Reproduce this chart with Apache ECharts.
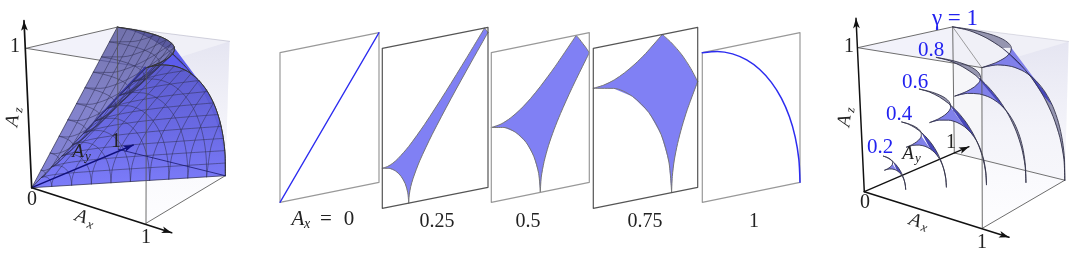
<!DOCTYPE html>
<html><head><meta charset="utf-8">
<script src="https://cdn.jsdelivr.net/npm/echarts@6/dist/echarts.min.js"></script>
<style>html,body{margin:0;padding:0;background:#fff}#c{width:1073px;height:253px}</style>
</head><body><div id="c"></div>
<script>
// ---------- values (unit cube coordinates) ----------
const unitArc=[[1,0],[.988,.156],[.951,.309],[.891,.454],[.809,.588],[.707,.707],[.588,.809],[.454,.891],[.309,.951],[.156,.988],[0,1]];
const gridLevels=[.1,.2,.3,.4,.5,.6,.7,.8,.9];
const gammaLevels=[.2,.4,.6,.8,1];
// cone ruling curves [long coordinate, short coordinate], one for each grid level
const curve1=[[.1,0],[.103,.025],[.112,.05],[.125,.075],[.141,.1],[.18,.15],[.224,.2],[.316,.3],[.51,.5],[.707,.7],[.906,.9],[1,.995]];
const curve2=[[.2,0],[.206,.05],[.224,.1],[.25,.15],[.283,.2],[.361,.3],[.447,.4],[.632,.6],[.825,.8],[1,.98]];
const curve3=[[.3,0],[.309,.075],[.335,.15],[.375,.225],[.424,.3],[.541,.45],[.671,.6],[.854,.8],[1,.954]];
const curve4=[[.4,0],[.412,.1],[.447,.2],[.5,.3],[.566,.4],[.721,.6],[.894,.8],[1,.917]];
const curve5=[[.5,0],[.515,.125],[.559,.25],[.625,.375],[.707,.5],[.86,.7],[1,.866]];
const curve6=[[.6,0],[.618,.15],[.671,.3],[.75,.45],[.849,.6],[1,.8]];
const curve7=[[.7,0],[.722,.175],[.783,.35],[.875,.525],[1,.714]];
const curve8=[[.8,0],[.825,.2],[.894,.4],[1,.6]];
const curve9=[[.9,0],[.928,.225],[.96,.334],[1,.436]];
const curves=[curve1,curve2,curve3,curve4,curve5,curve6,curve7,curve8,curve9];
const seamSliver=[[.35,0,.35],[.6,.01,.615],[.85,.02,.875],[.97,.03,1],[1,0,1]];
// slices, points are [Ay, Az]
const sliceZeroLine=[[0,0],[1,1]];
const sliceOneArc=[[0,1],[.156,.988],[.309,.951],[.454,.891],[.588,.809],[.707,.707],[.809,.588],[.891,.454],[.951,.309],[.988,.156],[1,0]];
const inner25=[[0,.25],[.065,.241],[.125,.217],[.177,.177],[.217,.125],[.241,.065],[.25,0]];
const upper25=[[0,.25],[.05,.255],[.1,.269],[.15,.292],[.25,.354],[.4,.472],[.6,.65],[.8,.838],[.968,1]];
const outer25=[[.968,1],[.984,.984],[1,.968]];
const inner50=[[0,.5],[.129,.483],[.25,.433],[.354,.354],[.433,.25],[.483,.129],[.5,0]];
const upper50=[[0,.5],[.1,.51],[.2,.539],[.3,.583],[.4,.64],[.5,.707],[.65,.82],[.866,1]];
const outer50=[[.866,1],[.9,.97],[.935,.935],[.97,.9],[1,.866]];
const inner75=[[0,.75],[.194,.724],[.375,.65],[.53,.53],[.65,.375],[.724,.194],[.75,0]];
const upper75=[[0,.75],[.1,.757],[.2,.776],[.3,.808],[.4,.85],[.5,.901],[.661,1]];
const outer75=[[.661,1],[.75,.935],[.848,.848],[.935,.75],[1,.661]];
const sliceValues=['0.25','0.5','0.75','1'];
const gammaLabels=['0.2','0.4','0.6','0.8'];

// ---------- layout: perspective boxes, from the axis ends and depth factors ----------
const cubeL={o:[31.7,187.7],ex:[146,223.3],ey:[118.3,149.3],ez:[26,48.3],a:-.11,b:.15,c:-.05,
  tz:[24,20.7],tx:[171.7,232.7],ty:[133.3,145]};
const cubeR={o:[864.3,191.7],ex:[982.3,228.3],ey:[954.3,153],ez:[857.7,47.7],a:-.11,b:.15,c:-.05,
  tz:[856,18.3],tx:[1009,237.3],ty:[969,146.7]};
const panels=[
 {bl:[280,202.3],br:[379,182.3],tl:[280,52.7],tr:[379,32.7],edge:'#999'},
 {bl:[382.3,208.3],br:[488,187.3],tl:[382.3,48.3],tr:[488,27.3],edge:'#555'},
 {bl:[491.3,202.3],br:[589.3,182.3],tl:[491.3,52.7],tr:[589.3,32.7],edge:'#999'},
 {bl:[593.3,208.3],br:[697.7,187.3],tl:[593.3,48.3],tr:[697.7,27.3],edge:'#555'},
 {bl:[702.3,202.3],br:[800,182.3],tl:[702.3,52.7],tr:[800,32.7],edge:'#999'}];
const lerp=(a,b,t)=>[a[0]+(b[0]-a[0])*t,a[1]+(b[1]-a[1])*t];
const proj=(c,p)=>{const [x,y,z]=p;
  const d=1+c.a*x+c.b*y+c.c*z;
  return [0,1].map(i=>(c.o[i]*(1-x-y-z)+x*(1+c.a)*c.ex[i]+y*(1+c.b)*c.ey[i]+z*(1+c.c)*c.ez[i])/d);};
const projAll=(c,a)=>a.map(p=>proj(c,p));
const panelPt=(P,q)=>lerp(lerp(P.bl,P.br,q[0]),lerp(P.tl,P.tr,q[0]),q[1]);
const corner=(c,n)=>proj(c,[n.includes('x')?1:0,n.includes('y')?1:0,n.includes('z')?1:0]);

const series=[]; let zi=1;
const fill=(pts,color,stroke,sw)=>series.push({type:'custom',coordinateSystem:'cartesian2d',silent:true,animation:false,clip:false,z:zi++,
  data:pts,encode:{x:0,y:1},
  renderItem:(params,api)=>params.dataIndex!==0?null:({type:'polygon',shape:{points:pts.map(p=>api.coord(p))},
     style:{fill:color,stroke:stroke||'none',lineWidth:sw||0}})});
const line=(pts,color,w,smooth)=>series.push({type:'line',silent:true,animation:false,clip:false,z:zi++,data:pts,symbol:'none',showSymbol:false,
  smooth:smooth?0.3:false,lineStyle:{color,width:w,cap:'round',join:'round'}});
const grad=(stops)=>new echarts.graphic.LinearGradient(0,0,0,1,stops.map((c,i)=>({offset:i/(stops.length-1),color:c})));
const arrow=(from,tip,color,len,wid)=>{const dx=tip[0]-from[0],dy=tip[1]-from[1],n=Math.hypot(dx,dy),ux=dx/n,uy=dy/n;
  const b=[tip[0]-ux*len,tip[1]-uy*len];
  fill([tip,[b[0]-uy*wid,b[1]+ux*wid],[tip[0]-ux*len*.75,tip[1]-uy*len*.75],[b[0]+uy*wid,b[1]-ux*wid]],color);};
const axisLine=(from,tip,color,w)=>{line([from,tip],color,w,false);arrow(from,tip,color,10,3.4);};

const arcA=g=>unitArc.map(([c,s])=>[g*s,g*c,g]);
const arcB=g=>unitArc.map(([c,s])=>[g,g*s,g*c]);
const arcC=g=>unitArc.map(([c,s])=>[g*s,g,g*c]);

function patch(cube,g,cols){
  const A=projAll(cube,arcA(g)),B=projAll(cube,arcB(g)),C=projAll(cube,arcC(g));
  fill([...A.slice(0,7),...C.slice(0,4).reverse()],cols.grey);
  fill([...A.slice(6),...B.slice(1,5)],cols.mid);
  fill([...C.slice(3,7),...B.slice(4,7).reverse()],cols.navy);
  fill([...C.slice(6),...B.slice(6).reverse()],cols.grey);
  line(A,cols.edge,.9,true);line(B,cols.edge,.9,true);line(C,cols.edge,.9,true);
}
function walls(c){
  const k=n=>corner(c,n);
  fill([k('z'),k('xz'),k('xyz'),k('yz')],'rgba(232,232,245,.55)');
  fill([k('y'),k('xy'),k('xyz'),k('yz')],'rgba(238,238,244,.5)');
  fill([k('xz'),k('xyz'),k('xy'),k('x')],grad(['rgba(226,226,240,.85)','rgba(243,243,250,.7)','rgba(251,251,254,.5)']));
}
const boxLine=(c,a,b,col)=>line([corner(c,a),corner(c,b)],col||'rgba(85,85,85,.85)',1,false);

// ---- left cube ----
walls(cubeL);
boxLine(cubeL,'z','yz');boxLine(cubeL,'z','xz');boxLine(cubeL,'yz','xyz','rgba(170,170,190,.5)');
boxLine(cubeL,'x','xy');
patch(cubeL,1,{grey:'rgba(95,95,150,.85)',mid:'#5c5cec',navy:'#3a3aac',edge:'#333'});
const surfGrid='rgba(50,50,85,.55)';
const xCone=[cubeL.o,...projAll(cubeL,arcB(1)).reverse()];
fill(xCone,grad(['rgba(84,84,204,.95)','rgba(98,98,226,.95)','rgba(120,120,250,.97)']));
curves.forEach((k,i)=>{const c=gridLevels[i];
  line(projAll(cubeL,k.map(([t,w])=>[t,c,w])),surfGrid,1,true);
  line(projAll(cubeL,k.map(([t,w])=>[t,w,c])),surfGrid,1,true);
  line(projAll(cubeL,unitArc.map(([u,v])=>[c,c*u,c*v])),surfGrid,1,true);
});
const zCone=[cubeL.o,...projAll(cubeL,arcA(1))];
fill(zCone,grad(['rgba(78,78,150,.78)','rgba(100,100,190,.8)','rgba(108,108,210,.85)']));
curves.forEach((k,i)=>{const c=gridLevels[i];
  line(projAll(cubeL,k.map(([t,w])=>[c,w,t])),surfGrid,1,true);
  line(projAll(cubeL,k.map(([t,w])=>[w,c,t])),surfGrid,1,true);
  line(projAll(cubeL,unitArc.map(([u,v])=>[c*v,c*u,c])),surfGrid,1,true);
});
fill(projAll(cubeL,seamSliver),'#35359f');
line(projAll(cubeL,arcA(1)),'#333',1,true);
line(projAll(cubeL,arcB(1)),'#333',1,true);
line([cubeL.o,corner(cubeL,'xz')],'rgba(40,40,70,.8)',1,false);
line([cubeL.o,corner(cubeL,'yz')],'rgba(40,40,70,.7)',1,false);
line([cubeL.o,corner(cubeL,'xy')],'rgba(40,40,70,.7)',1,false);
boxLine(cubeL,'y','yz');boxLine(cubeL,'x','xz');
boxLine(cubeL,'y','xy','rgba(25,25,110,.8)');
axisLine(cubeL.o,cubeL.ty,'#10107c',1.4);
axisLine(cubeL.o,cubeL.tz,'#111',1.7);
axisLine(cubeL.o,cubeL.tx,'#111',1.7);

// ---- slices ----
const swap=a=>a.map(([p,q])=>[q,p]);
const sliceParts=[null,[inner25,upper25,outer25],[inner50,upper50,outer50],[inner75,upper75,outer75],null];
panels.forEach((P,i)=>{
  const sp=sliceParts[i];
  if(sp){const [inn,up,out]=sp;
    const poly=[...inn,...swap(up),...out.slice().reverse(),...up.slice().reverse()].map(q=>panelPt(P,q));
    fill(poly,'#8080f4');
    [inn,up,swap(up),out].forEach(a=>line(a.map(q=>panelPt(P,q)),'#777',1,true));
  }
  line([P.bl,P.br,P.tr,P.tl,P.bl],P.edge,1.2,false);
  if(i===0) line(sliceZeroLine.map(q=>panelPt(P,q)),'#2c2cf0',1.3,false);
  if(i===4) line(sliceOneArc.map(q=>panelPt(P,q)),'#2c2cf0',1.5,true);
});

// ---- right cube ----
walls(cubeR);
boxLine(cubeR,'z','yz');boxLine(cubeR,'z','xz');boxLine(cubeR,'yz','xyz','rgba(190,190,205,.5)');
boxLine(cubeR,'x','xy');boxLine(cubeR,'y','yz');boxLine(cubeR,'y','xy','rgba(80,80,80,.8)');boxLine(cubeR,'xz','yz','rgba(120,120,120,.7)');
axisLine(cubeR.o,cubeR.ty,'#111',1.3);
gammaLevels.forEach(g=>patch(cubeR,g,{grey:'rgba(110,110,145,.7)',mid:'#8080ea',navy:'#4747b8',edge:'#33334a'}));
boxLine(cubeR,'x','xz');
axisLine(cubeR.o,cubeR.tz,'#111',1.5);
axisLine(cubeR.o,cubeR.tx,'#111',1.5);

// ---- text ----
const T=(text,x,y,size,rot,italic,color)=>({text,x,y,size,rot:rot||0,italic:!!italic,color:color||'#222'});
const blue='#2222f0';
const labels=[
 T('1',15,47,20),T('0',32,200,20),T('1',146,238,20),T('1',116,142,20),
 T('A',81,217,19,-.3,true),T('x',90,225,13,-.3,true),
 T('A',13,121,19,1.45,true),T('z',19,110,13,1.45,true),
 T('A',78,152,19,0,true),T('y',88,157,13,0,true),
 T('A',298,219,21,0,true),T('x',307,224,14,0,true),T('=',326,219,21),T('0',349,219,21),
 T(sliceValues[0],437,222,20),T(sliceValues[1],528,222,20),T(sliceValues[2],645,222,20),T(sliceValues[3],754,222,20),
 T('1',849,47,20),T('0',865,203,20),T('1',982,243,20),T('1',951,143,20),
 T('A',915,221,19,-.3,true),T('x',924,228,13,-.3,true),
 T('A',845,121,19,1.45,true),T('z',851,110,13,1.45,true),
 T('A',908,154,19,0,true),T('y',918,159,13,0,true),
 T('γ = 1',955,19,23,0,false,blue),
 T(gammaLabels[3],931,50,21,0,false,blue),T(gammaLabels[2],915,82,21,0,false,blue),
 T(gammaLabels[1],899,114,21,0,false,blue),T(gammaLabels[0],880,147,21,0,false,blue)];
series.push({type:'custom',coordinateSystem:'cartesian2d',silent:true,animation:false,clip:false,z:zi++,
  data:labels.map(l=>[l.x,l.y]),encode:{x:0,y:1},
  renderItem:(params,api)=>{const l=labels[params.dataIndex],p=api.coord([l.x,l.y]);
    return {type:'text',x:p[0],y:p[1],rotation:l.rot,style:{text:l.text,fill:l.color,align:'center',verticalAlign:'middle',
      font:(l.italic?'italic ':'')+l.size+'px "Liberation Serif"'}};}});

const chart=echarts.init(document.getElementById('c'),null,{renderer:'canvas'});
chart.setOption({animation:false,backgroundColor:'#fff',
  grid:{left:0,right:0,top:0,bottom:0},
  xAxis:{type:'value',min:0,max:1073,show:false},
  yAxis:{type:'value',min:0,max:253,inverse:true,show:false},
  series});
</script></body></html>
